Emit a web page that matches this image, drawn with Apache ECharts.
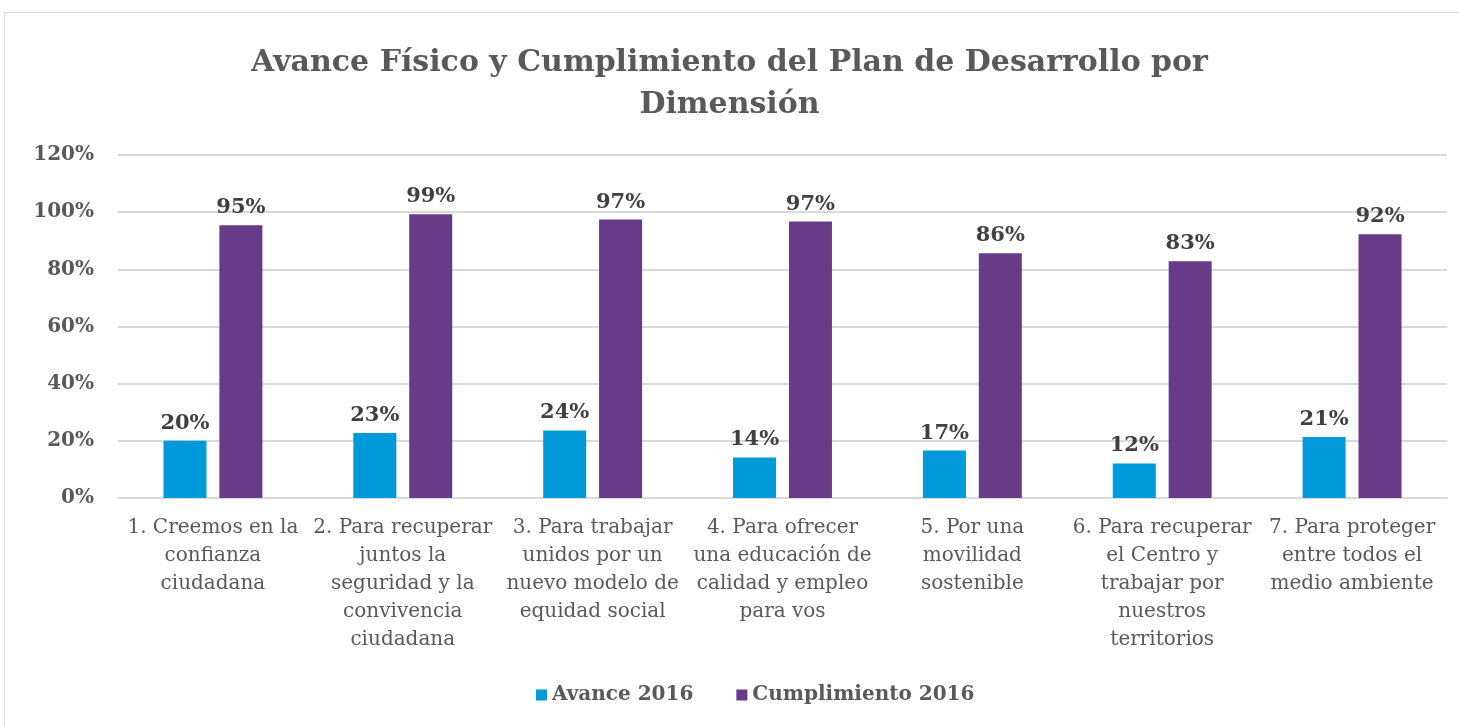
<!DOCTYPE html>
<html>
<head>
<meta charset="utf-8">
<script src="https://cdn.jsdelivr.net/npm/echarts@6/dist/echarts.min.js"></script>
<style>
html, body { margin: 0; padding: 0; background: #fff; }
#chart { width: 1459px; height: 726px; }
</style>
</head>
<body>
<div id="chart"></div>
<script>
// dimensiones del plan (con saltos de línea como en el original)
const categorias = [
    '1. Creemos en la\nconfianza\nciudadana',
    '2. Para recuperar\njuntos la\nseguridad y la\nconvivencia\nciudadana',
    '3. Para trabajar\nunidos por un\nnuevo modelo de\nequidad social',
    '4. Para ofrecer\nuna educación de\ncalidad y empleo\npara vos',
    '5. Por una\nmovilidad\nsostenible',
    '6. Para recuperar\nel Centro y\ntrabajar por\nnuestros\nterritorios',
    '7. Para proteger\nentre todos el\nmedio ambiente'
];
const avance2016 = [20, 22.7, 23.6, 14.2, 16.6, 12.1, 21.3];
const cumplimiento2016 = [95.4, 99.3, 97.4, 96.7, 85.6, 82.8, 92.3];
const serieNombres = ['Avance 2016', 'Cumplimiento 2016'];

const fuente = '"DejaVu Serif", "Liberation Serif", serif';

let chart = echarts.init(document.getElementById('chart'));
chart.setOption({
    title: {
        text: 'Avance Físico y Cumplimiento del Plan de Desarrollo por\nDimensión',
        left: 'center',
        top: 37,
        textStyle: {
            fontFamily: fuente,
            fontSize: 30,
            fontWeight: 'bold',
            color: '#595959',
            lineHeight: 42
        }
    },
    legend: {
        bottom: 16,
        left: 531,
        itemWidth: 11,
        itemHeight: 11,
        itemGap: 43,
        icon: 'rect',
        textStyle: {
            fontFamily: fuente,
            fontSize: 20,
            fontWeight: 'bold',
            color: '#595959'
        },
        data: serieNombres
    },
    grid: {
        left: 118,
        right: 12,
        top: 155,
        bottom: 228
    },
    xAxis: {
        type: 'category',
        data: categorias,
        axisTick: { show: false },
        axisLine: { lineStyle: { color: '#d9d9d9', width: 2 } },
        axisLabel: {
            interval: 0,
            margin: 16,
            fontFamily: fuente,
            fontSize: 20,
            color: '#595959',
            lineHeight: 28
        }
    },
    yAxis: {
        type: 'value',
        min: 0,
        max: 120,
        interval: 20,
        axisLine: { show: false },
        axisTick: { show: false },
        splitLine: { lineStyle: { color: '#d9d9d9', width: 2 } },
        axisLabel: {
            margin: 24,
            fontFamily: fuente,
            fontSize: 20,
            fontWeight: 'bold',
            color: '#595959',
            formatter: '{value}%'
        }
    },
    series: [
        {
            name: serieNombres[0],
            type: 'bar',
            data: avance2016,
            barWidth: 43,
            barGap: '30%',
            itemStyle: { color: '#009ADA' },
            label: {
                show: true,
                position: 'top',
                distance: 7,
                fontFamily: fuente,
                fontSize: 21,
                fontWeight: 'bold',
                color: '#404040',
                formatter: p => Math.round(p.value) + '%'
            }
        },
        {
            name: serieNombres[1],
            type: 'bar',
            data: cumplimiento2016,
            barWidth: 43,
            itemStyle: { color: '#673B88' },
            label: {
                show: true,
                position: 'top',
                distance: 7,
                fontFamily: fuente,
                fontSize: 21,
                fontWeight: 'bold',
                color: '#404040',
                formatter: p => Math.round(p.value) + '%'
            }
        }
    ],
    graphic: [{
        type: 'rect',
        shape: { x: 4.5, y: 12.5, width: 1460, height: 720 },
        style: { fill: 'none', stroke: '#d9d9d9', lineWidth: 1 },
        silent: true
    }]
});
</script>
</body>
</html>
